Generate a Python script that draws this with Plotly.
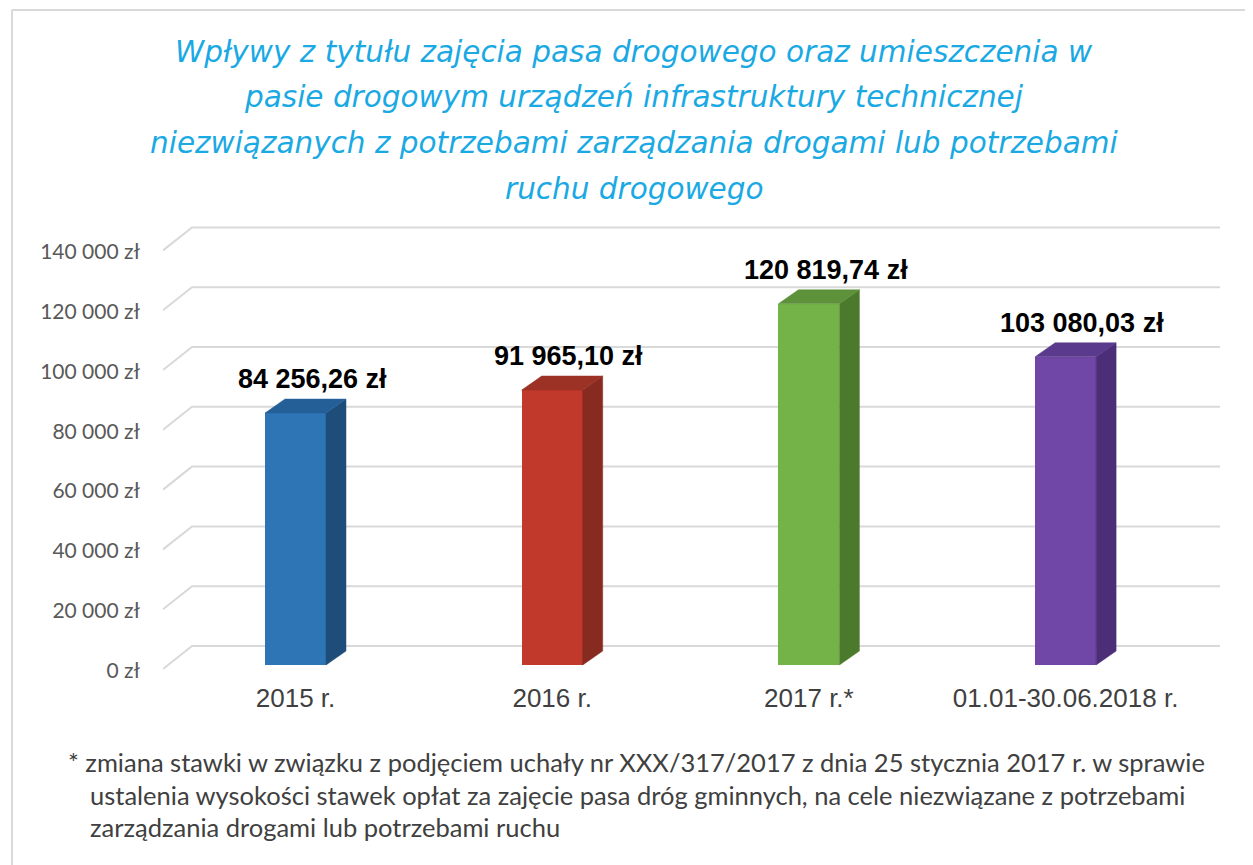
import plotly.graph_objects as go

# ---- data ----
categories = ["2015 r.", "2016 r.", "2017 r.*", "01.01-30.06.2018 r."]
values = [84256.26, 91965.10, 120819.74, 103080.03]
value_labels = ["84 256,26 zł", "91 965,10 zł", "120 819,74 zł", "103 080,03 zł"]
tick_values = [0, 20000, 40000, 60000, 80000, 100000, 120000, 140000]
tick_labels = ["0 zł", "20 000 zł", "40 000 zł", "60 000 zł", "80 000 zł",
               "100 000 zł", "120 000 zł", "140 000 zł"]
title_lines = [
    "Wpływy z tytułu zajęcia pasa drogowego oraz umieszczenia w",
    "pasie drogowym urządzeń infrastruktury technicznej",
    "niezwiązanych z potrzebami zarządzania drogami lub potrzebami",
    "ruchu drogowego",
]
footnote_lines = [
    "* zmiana stawki w związku z podjęciem uchały nr XXX/317/2017 z dnia 25 stycznia 2017 r. w sprawie",
    "ustalenia wysokości stawek opłat za zajęcie pasa dróg gminnych, na cele niezwiązane z potrzebami",
    "zarządzania drogami lub potrzebami ruchu",
]

# ---- style ----
front_colors = ["#2e75b6", "#c0392b", "#74b347", "#7046a6"]
side_colors = ["#1f4d7a", "#872a20", "#4c7a2c", "#4b2d78"]
top_colors = ["#255f98", "#9c3125", "#5d913a", "#5a3a8c"]

OFF = 8                      # default page body margin
SW, SH = 1253, 865           # screen size
PL, PR, PT, PB = 163, 1222, 215, 680   # plot area in screen pixels
W, H = SW - OFF, SH - OFF
ML, MR, MT, MB = PL - OFF, SW - PR, PT - OFF, SH - PB

PX_PER_CAT = 256.7
X0_PX = 295.5
PX_PER_VAL = 0.00299
Y0_PX = 665

def px_to_x(px):
    return (px - X0_PX) / PX_PER_CAT

def pxd_to_val(d):
    return d / PX_PER_VAL

x_range = [px_to_x(PL), px_to_x(PR)]
y_range = [-pxd_to_val(PB - Y0_PX), pxd_to_val(Y0_PX - PT)]

bar_w = 61 / PX_PER_CAT
bar_dx = 20 / PX_PER_CAT
bar_dy = pxd_to_val(14)
wall_dy = pxd_to_val(19)
slant_low = -pxd_to_val(4)
x_wall_front = px_to_x(163)
x_wall_back = px_to_x(192)
x_wall_right = px_to_x(1220)
label_offset = -pxd_to_val(5.5)

fig = go.Figure()

shapes = []
# gridlines (3D wall style), below the bars
for v in tick_values:
    path = "M {} {} L {} {} L {} {}".format(
        x_wall_front, v + slant_low, x_wall_back, v + wall_dy, x_wall_right, v + wall_dy)
    shapes.append(dict(type="path", xref="x", yref="y", path=path, layer="below",
                       line=dict(color="#d9d9d9", width=2)))

xs = list(range(len(categories)))

# front faces
fig.add_trace(go.Bar(
    x=xs, y=values, width=bar_w, marker=dict(color=front_colors, line=dict(width=0)),
    showlegend=False, hoverinfo="skip"))

# side and top faces
for i, v in enumerate(values):
    xr = i + bar_w / 2
    xl = i - bar_w / 2
    fig.add_trace(go.Scatter(
        x=[xr, xr + bar_dx, xr + bar_dx, xr, xr],
        y=[0, bar_dy, v + bar_dy, v, 0],
        fill="toself", fillcolor=side_colors[i], mode="lines",
        line=dict(color=side_colors[i], width=0.5),
        hoverinfo="skip", showlegend=False))
    fig.add_trace(go.Scatter(
        x=[xl, xl + bar_dx, xr + bar_dx, xr, xl],
        y=[v, v + bar_dy, v + bar_dy, v, v],
        fill="toself", fillcolor=top_colors[i], mode="lines",
        line=dict(color=top_colors[i], width=0.5),
        hoverinfo="skip", showlegend=False))

annotations = []
for i, v in enumerate(values):
    annotations.append(dict(
        x=i + 0.065, y=v + bar_dy, xref="x", yref="y", text=value_labels[i],
        showarrow=False, yanchor="bottom", yshift=3,
        font=dict(family="Liberation Sans, Arial", size=27, color="#000000", weight="bold")))

plot_h = PB - PT
plot_w = PR - PL

def py_to_paper(py):
    return (PB - py) / plot_h

def px_to_paper(px):
    return (px - PL) / plot_w

title_y = [52, 97, 143, 189]
for line, ty in zip(title_lines, title_y):
    annotations.append(dict(
        x=px_to_paper(634), y=py_to_paper(ty), xref="paper", yref="paper",
        text="<i>" + line + "</i>", showarrow=False, xanchor="center", yanchor="middle",
        font=dict(family="DejaVu Sans", size=29.5, color="#1aa9e3")))

foot_y = [762, 795, 827]
foot_x = [66, 88, 88]
for line, fy, fx in zip(footnote_lines, foot_y, foot_x):
    annotations.append(dict(
        x=px_to_paper(fx), y=py_to_paper(fy), xref="paper", yref="paper",
        text=line, showarrow=False, xanchor="left", yanchor="middle",
        font=dict(family="Lato", size=25.5, color="#404040")))

shapes += [
    dict(type="line", xref="paper", yref="paper",
         x0=px_to_paper(12), x1=px_to_paper(12), y0=py_to_paper(10), y1=py_to_paper(865),
         line=dict(color="#d9d9d9", width=2)),
    dict(type="line", xref="paper", yref="paper",
         x0=px_to_paper(12), x1=px_to_paper(1253), y0=py_to_paper(10), y1=py_to_paper(10),
         line=dict(color="#d9d9d9", width=2)),
]

fig.update_layout(
    width=W, height=H,
    margin=dict(l=ML, r=MR, t=MT, b=MB),
    paper_bgcolor="white", plot_bgcolor="white",
    showlegend=False,
    annotations=annotations,
    shapes=shapes,
    xaxis=dict(range=x_range, tickvals=xs, ticktext=categories, showgrid=False,
               zeroline=False, showline=False, ticks="",
               tickfont=dict(family="Liberation Sans, Arial", size=26, color="#404040"),
               ticklabelstandoff=0, fixedrange=True),
    yaxis=dict(range=y_range, tickvals=[v + label_offset for v in tick_values],
               ticktext=tick_labels, showgrid=False, zeroline=False, showline=False,
               ticks="", ticklabelstandoff=22,
               tickfont=dict(family="Lato", size=21, color="#595959"), fixedrange=True),
    bargap=0,
)

fig.write_html("out.html")
